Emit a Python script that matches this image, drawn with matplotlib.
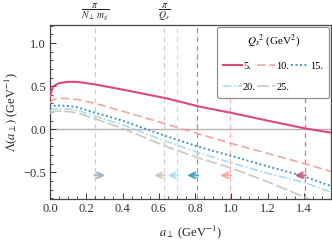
import numpy as np
import matplotlib
matplotlib.use('Agg')
import matplotlib.pyplot as plt
import matplotlib.transforms as mtransforms
from matplotlib.ticker import MultipleLocator

plt.rcParams['font.family'] = 'Liberation Serif'
plt.rcParams['mathtext.fontset'] = 'stix'

# values
a_perp = [0.0, 0.01, 0.02, 0.05, 0.1, 0.15, 0.25, 0.4, 0.64, 0.83, 1.0, 1.2, 1.405, 1.55]
lam_5 = [0.37, 0.46, 0.50, 0.535, 0.55, 0.55, 0.52, 0.46, 0.36, 0.26, 0.19, 0.10, 0.01, -0.04]
lam_10 = [0.30, 0.33, 0.345, 0.36, 0.355, 0.345, 0.30, 0.21, 0.06, -0.06, -0.165, -0.28, -0.40, -0.49]
lam_15 = [0.24, 0.26, 0.27, 0.275, 0.27, 0.255, 0.19, 0.10, -0.08, -0.21, -0.31, -0.43, -0.55, -0.66]
lam_20 = [0.21, 0.225, 0.235, 0.24, 0.235, 0.22, 0.15, 0.05, -0.14, -0.28, -0.39, -0.51, -0.62, -0.73]
lam_25 = [0.18, 0.195, 0.205, 0.21, 0.205, 0.19, 0.12, 0.01, -0.20, -0.34, -0.45, -0.61, -0.79, -0.90]

qs2 = [5, 10, 15, 20, 25]
qs2_labels = ['5.', '10.', '15.', '20.', '25.']
curves = [lam_5, lam_10, lam_15, lam_20, lam_25]
colors = ['#e0457b', '#f5a3a3', '#3f98c0', '#a8dcef', '#c9c9c2']
styles = ['-', (0, (5, 2.5)), (0, (1, 1.3)), (0, (5, 1.5, 1, 1.5)), (0, (7, 2))]
widths = [1.5, 1.2, 1.4, 1.2, 1.2]

pi_Nmg = 0.25
arrow_y = -0.535
arrow_len = 0.055

fig = plt.figure(figsize=(3.32, 2.41), dpi=100)
ax = fig.add_axes([50 / 332, 42 / 241, 281 / 332, 174 / 241])

ax.axhline(0, color='#b4b4b4', lw=1.0, zorder=1)

# scale lines
ax.axvline(pi_Nmg, color='#cfcfcf', lw=0.9, ls=(0, (4, 3)), zorder=1)
ax.annotate('', xy=(pi_Nmg + arrow_len, arrow_y), xytext=(pi_Nmg - 0.005, arrow_y),
            arrowprops=dict(arrowstyle='->', color='#a9b8c2', lw=1.6, shrinkA=0, shrinkB=0))
for q, c in zip(qs2, colors):
    x = np.pi / np.sqrt(q)
    ax.axvline(x, color=c, lw=0.9, ls=(0, (4, 3)), alpha=0.8, zorder=1)
    ax.annotate('', xy=(x - arrow_len, arrow_y), xytext=(x + 0.005, arrow_y),
                arrowprops=dict(arrowstyle='->', color=c, lw=1.6, alpha=0.85,
                                shrinkA=0, shrinkB=0))

lines = []
for y, c, s, w, lab in zip(curves, colors, styles, widths, qs2_labels):
    ln, = ax.plot(a_perp, y, color=c, ls=s, lw=w, label=lab, zorder=3)
    lines.append(ln)

ax.set_xlim(0, 1.55)
ax.set_ylim(-0.81, 1.21)
ax.xaxis.set_major_locator(MultipleLocator(0.2))
ax.xaxis.set_minor_locator(MultipleLocator(0.05))
ax.yaxis.set_major_locator(MultipleLocator(0.5))
ax.yaxis.set_minor_locator(MultipleLocator(0.1))
ax.tick_params(which='both', direction='in', top=False, right=False,
               labelsize=9, colors='#333333', pad=3)
ax.tick_params(which='major', length=4, width=0.7)
ax.tick_params(which='minor', length=2, width=0.6)
for sp in ax.spines.values():
    sp.set_color('#444444')
    sp.set_linewidth(0.9)

ax.set_xlabel(r'$a_\perp$ (GeV$^{-1}$)', fontsize=9, color='#222222', labelpad=6)
ax.set_ylabel(r'$\Lambda(a_\perp)$ (GeV$^{-1}$)', fontsize=9, color='#222222', labelpad=2)

trans = mtransforms.blended_transform_factory(ax.transData, ax.transAxes)
ax.text(pi_Nmg, 1.01, r'$\dfrac{\pi}{N_\perp\, m_g}$', transform=trans,
        ha='center', va='bottom', fontsize=7, color='#222222')
ax.text(np.pi / 5, 1.01, r'$\dfrac{\pi}{Q_s}$', transform=trans,
        ha='center', va='bottom', fontsize=7, color='#222222')

order = [0, 3, 1, 4, 2]
leg = ax.legend([lines[i] for i in order], [qs2_labels[i] for i in order],
                ncol=3, loc='upper right', bbox_to_anchor=(1.0, 1.0), borderaxespad=0.15,
                title=r'$Q_s{}^2$ (GeV$^2$)', fontsize=7.5, title_fontsize=8,
                frameon=True, fancybox=True, handlelength=1.75, handletextpad=0.12,
                columnspacing=0.12, labelspacing=1.15, borderpad=0.6)
leg.get_frame().set_edgecolor('#888888')
leg.get_frame().set_linewidth(0.8)
leg.get_frame().set_alpha(1.0)

fig.savefig('out.png', dpi=100)
